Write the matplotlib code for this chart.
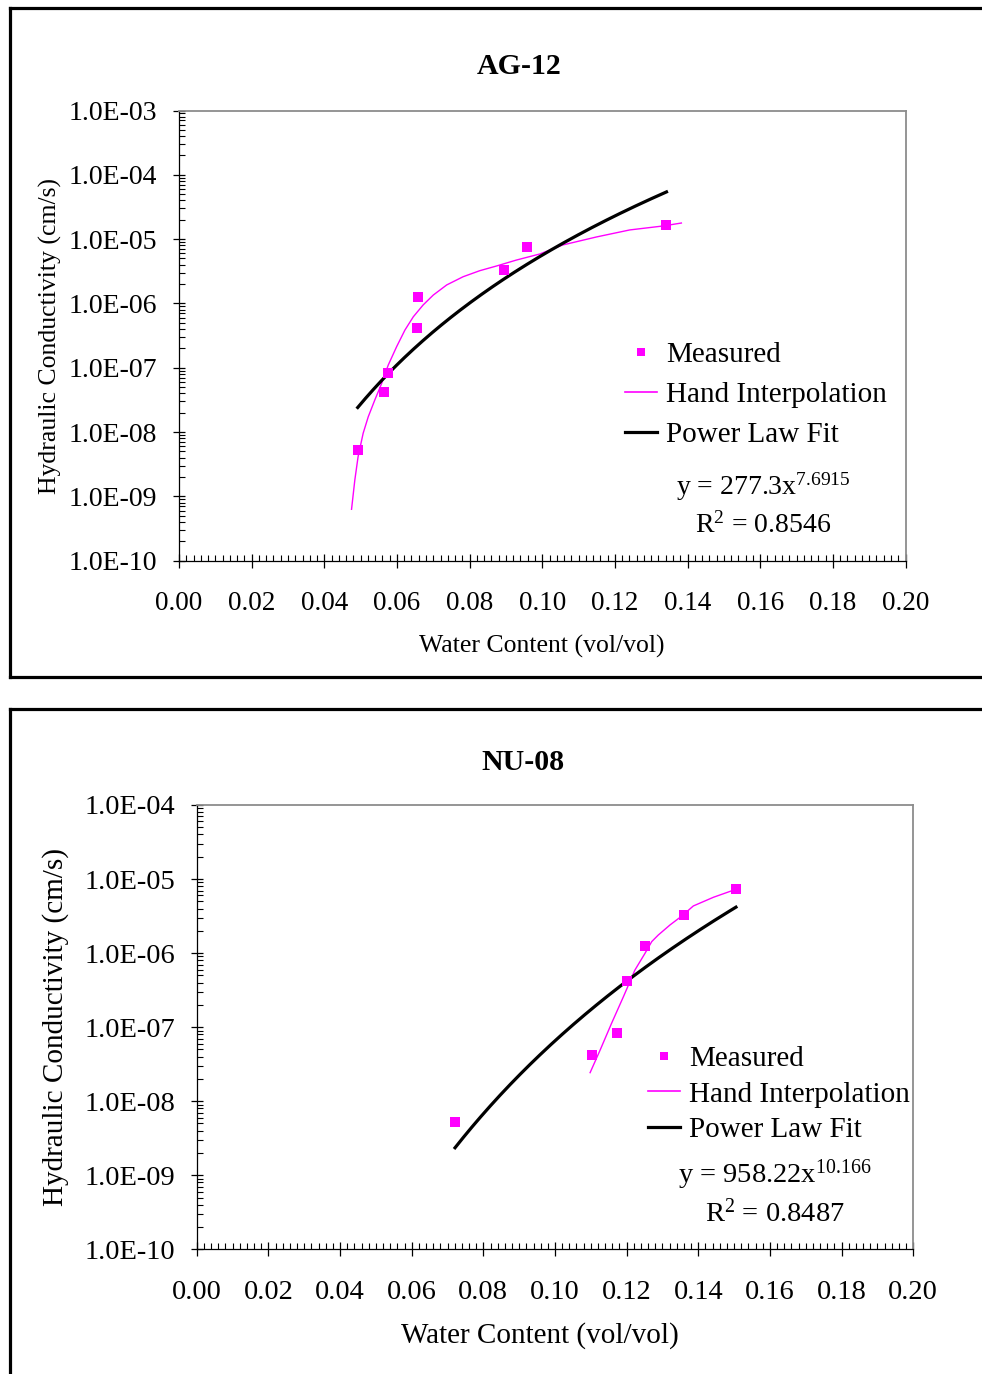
import numpy as np
import matplotlib
matplotlib.use("Agg")
import matplotlib.pyplot as plt
from matplotlib.lines import Line2D
from matplotlib.ticker import MultipleLocator, LogLocator, FuncFormatter, NullFormatter

plt.rcParams["font.family"] = ["Liberation Serif", "DejaVu Serif"]
plt.rcParams["mathtext.fontset"] = "custom"
plt.rcParams["mathtext.rm"] = "Liberation Serif"
plt.rcParams["mathtext.it"] = "Liberation Serif:italic"

# ---------------- data ----------------
# AG-12
ag_theta = [0.0492, 0.0564, 0.0575, 0.0655, 0.0657, 0.0894, 0.0957, 0.1342]
ag_k = [5.3e-9, 4.2e-8, 8.3e-8, 4.1e-7, 1.25e-6, 3.3e-6, 7.5e-6, 1.64e-5]
ag_hand_theta = [0.0475, 0.0484, 0.0493, 0.0507, 0.0521, 0.0539, 0.0558, 0.0576,
                 0.0599, 0.0622, 0.0645, 0.0672, 0.0700, 0.0737, 0.0782, 0.0828,
                 0.0874, 0.0929, 0.0993, 0.1056, 0.1149, 0.1241, 0.1332, 0.1383]
ag_hand_k = [6.3e-10, 1.79e-9, 4.14e-9, 9.6e-9, 1.73e-8, 3.15e-8, 5.73e-8, 1.10e-7,
             2.12e-7, 3.86e-7, 6.2e-7, 9.46e-7, 1.35e-6, 1.94e-6, 2.60e-6, 3.23e-6,
             3.82e-6, 4.73e-6, 5.87e-6, 8.1e-6, 1.08e-5, 1.39e-5, 1.60e-5, 1.78e-5]
ag_coef, ag_exp, ag_r2 = 277.3, 7.6915, 0.8546

# NU-08
nu_theta = [0.0721, 0.1104, 0.1172, 0.1202, 0.1251, 0.1360, 0.1505]
nu_k = [5.3e-9, 4.2e-8, 8.4e-8, 4.2e-7, 1.25e-6, 3.3e-6, 7.3e-6]
nu_hand_theta = [0.1098, 0.1126, 0.1158, 0.1191, 0.1223, 0.1251, 0.1270, 0.1288,
                 0.1321, 0.1354, 0.1386, 0.1442, 0.1505]
nu_hand_k = [2.43e-8, 4.91e-8, 1.13e-7, 2.58e-7, 5.9e-7, 9.9e-7, 1.43e-6, 1.75e-6,
             2.40e-6, 3.17e-6, 4.33e-6, 5.67e-6, 7.27e-6]
nu_coef, nu_exp, nu_r2 = 958.22, 10.166, 0.8487

MAGENTA = "#FF00FF"
W, H = 982, 1374


def fx(x):
    return x / W


def fy(y):
    return 1 - y / H


def rect(x0, y0, x1, y1):
    return [fx(x0), fy(y1), (x1 - x0) / W, (y1 - y0) / H]


fig = plt.figure(figsize=(W / 100, H / 100), dpi=100)

# outer panel frames
frame_kw = dict(color="black", lw=2.3, transform=fig.transFigure, solid_capstyle="projecting")
fig.add_artist(Line2D([fx(10), fx(10)], [fy(7.5), fy(677)], **frame_kw))
fig.add_artist(Line2D([fx(10), 1.0], [fy(7.5), fy(7.5)], **frame_kw))
fig.add_artist(Line2D([fx(10), 1.0], [fy(677), fy(677)], **frame_kw))
fig.add_artist(Line2D([fx(10), fx(10)], [fy(709), 0.0], **frame_kw))
fig.add_artist(Line2D([fx(10), 1.0], [fy(709), fy(709)], **frame_kw))


def setup_axes(ax, ymin, ymax, fsx, fsy):
    ax.set_yscale("log")
    ax.set_xlim(0.0, 0.20)
    ax.set_ylim(ymin, ymax)
    ax.xaxis.set_major_locator(MultipleLocator(0.02))
    ax.xaxis.set_minor_locator(MultipleLocator(0.002))
    ax.xaxis.set_major_formatter(FuncFormatter(lambda v, p: f"{v:.2f}"))
    ax.yaxis.set_major_locator(LogLocator(base=10, numticks=100))
    ax.yaxis.set_minor_locator(LogLocator(base=10, subs=np.arange(2, 10), numticks=100))
    ax.yaxis.set_major_formatter(
        FuncFormatter(lambda v, p: "1.0E" + format(int(round(np.log10(v))), "03d")))
    ax.yaxis.set_minor_formatter(NullFormatter())
    for s in ("top", "right"):
        ax.spines[s].set_color("#8c8c8c")
        ax.spines[s].set_linewidth(1.3)
    for s in ("left", "bottom"):
        ax.spines[s].set_color("black")
        ax.spines[s].set_linewidth(0.9)
    ax.tick_params(axis="y", which="major", direction="inout", length=9, width=0.9,
                   pad=11, labelsize=fsy)
    ax.tick_params(axis="y", which="minor", direction="in", length=4, width=0.8)
    ax.tick_params(axis="x", which="major", direction="inout", length=10, width=0.9,
                   pad=17, labelsize=fsx)
    ax.tick_params(axis="x", which="minor", direction="in", length=4, width=0.8)


def draw_panel(ax, theta, k, hand_t, hand_k, coef, expo):
    ax.plot(hand_t, hand_k, color=MAGENTA, lw=1.0, zorder=2,
            solid_joinstyle="round")
    xf = np.linspace(min(theta), max(theta), 200)
    ax.plot(xf, coef * xf ** expo, color="black", lw=2.3, zorder=3)
    ax.plot(theta, k, linestyle="none", marker="s", markersize=6.5,
            color=MAGENTA, markeredgewidth=0, zorder=4)


def add_legend(ax, x, y, fs, spacing):
    handles = [
        Line2D([], [], linestyle="none", marker="s", markersize=5.5, color=MAGENTA,
               markeredgewidth=0),
        Line2D([], [], color=MAGENTA, lw=1.2),
        Line2D([], [], color="black", lw=2.3),
    ]
    labels = ["Measured", "Hand Interpolation", "Power Law Fit"]
    ax.legend(handles, labels, loc="upper left", bbox_to_anchor=(fx(x), fy(y)),
              bbox_transform=fig.transFigure, frameon=False, fontsize=fs,
              handlelength=1.1, handletextpad=0.3, labelspacing=spacing,
              borderpad=0, borderaxespad=0)


# ---------------- AG-12 ----------------
ax1 = fig.add_axes(rect(179, 110.5, 905.5, 560.7))
setup_axes(ax1, 1e-10, 1e-3, 19.5, 20)
draw_panel(ax1, ag_theta, ag_k, ag_hand_theta, ag_hand_k, ag_coef, ag_exp)
add_legend(ax1, 625, 342, 21, 0.46)
fig.text(fx(519), fy(66), "AG-12", fontsize=21.5, fontweight="bold", ha="center", va="center")
fig.text(fx(50), fy(336), "Hydraulic Conductivity (cm/s)", fontsize=18.5, rotation=90,
         ha="center", va="center")
fig.text(fx(542), fy(646), "Water Content (vol/vol)", fontsize=18.5, ha="center", va="center")
fig.text(fx(763), fy(487), r"y = %.1fx$^{\mathrm{%.4f}}$" % (ag_coef, ag_exp),
         fontsize=20, ha="center", va="center")
fig.text(fx(763), fy(525), r"R$^{\mathrm{2}}$ = %.4f" % ag_r2,
         fontsize=20, ha="center", va="center")

# ---------------- NU-08 ----------------
ax2 = fig.add_axes(rect(196.7, 805, 913.3, 1249.3))
setup_axes(ax2, 1e-10, 1e-4, 20.5, 20.5)
draw_panel(ax2, nu_theta, nu_k, nu_hand_theta, nu_hand_k, nu_coef, nu_exp)
add_legend(ax2, 648, 1046, 21, 0.30)
fig.text(fx(523), fy(763), "NU-08", fontsize=21.5, fontweight="bold", ha="center", va="center")
fig.text(fx(56), fy(1027), "Hydraulic Conductivity (cm/s)", fontsize=21, rotation=90,
         ha="center", va="center")
fig.text(fx(540), fy(1336), "Water Content (vol/vol)", fontsize=21, ha="center", va="center")
fig.text(fx(775), fy(1175), r"y = %.2fx$^{\mathrm{%.3f}}$" % (nu_coef, nu_exp),
         fontsize=20.5, ha="center", va="center")
fig.text(fx(775), fy(1213), r"R$^{\mathrm{2}}$ = %.4f" % nu_r2,
         fontsize=20.5, ha="center", va="center")

fig.savefig("out.png", dpi=100)
